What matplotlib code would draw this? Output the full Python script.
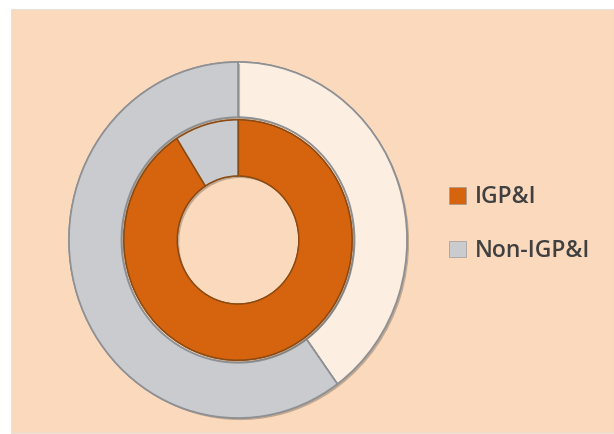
import matplotlib.pyplot as plt
from matplotlib.patches import Rectangle, Patch
import matplotlib.patheffects as pe

# Data: shares of each category in the two rings (inner and outer series)
categories = ['IGP&I', 'Non-IGP&I']
outer_values = [40, 60]
inner_values = [91, 9]

outer_colors = ['#FCEFE1', '#C9CBCE']
inner_colors = ['#D6640E', '#C9CBCE']
legend_colors = ['#D6640E', '#C9CBCE']

W, H = 614, 434
fig = plt.figure(figsize=(W / 100, H / 100), dpi=100)
fig.patch.set_facecolor('white')

# peach chart area
fig.patches.append(Rectangle((11 / W, 1 / H), 1 - 11 / W, (H - 10) / H,
                             transform=fig.transFigure, facecolor='#FAD9BD',
                             edgecolor='#E8E2DC', linewidth=0.8, zorder=-5))

# doughnut axes (slightly taller than wide, as in the reference)
cx, cy = 238, H - 240
rx, ry = 169, 178
ax = fig.add_axes([(cx - rx) / W, (cy - ry) / H, 2 * rx / W, 2 * ry / H])
ax.patch.set_alpha(0)
ax.set_zorder(2)

shadow = [pe.withSimplePatchShadow(offset=(1.5, -1.5), shadow_rgbFace='#7a6a5a', alpha=0.45), pe.Normal()]

ax.pie(outer_values, radius=1.0, colors=outer_colors, startangle=90, counterclock=False,
       wedgeprops=dict(width=0.31, edgecolor='#8E9094', linewidth=1.2, path_effects=shadow))
ax.pie(inner_values, radius=0.675, colors=inner_colors, startangle=90, counterclock=False,
       wedgeprops=dict(width=0.315, edgecolor='#8A4A12', linewidth=1.0, path_effects=shadow))
ax.set_aspect('auto')
ax.set_xlim(-1.0, 1.0)
ax.set_ylim(-1.0, 1.0)

handles = [Patch(facecolor=c, edgecolor='#9a9a9a', linewidth=0.5) for c in legend_colors]
leg = fig.legend(handles, categories, loc='center left', bbox_to_anchor=(428 / W, (H - 224) / H),
                 frameon=False, handlelength=0.75, handleheight=0.75,
                 handletextpad=0.4, labelspacing=1.3, labelcolor='#404040',
                 prop={'family': 'Open Sans', 'size': 16.5, 'weight': 'semibold'})
leg.set_zorder(3)

fig.savefig('out.png', dpi=100)
